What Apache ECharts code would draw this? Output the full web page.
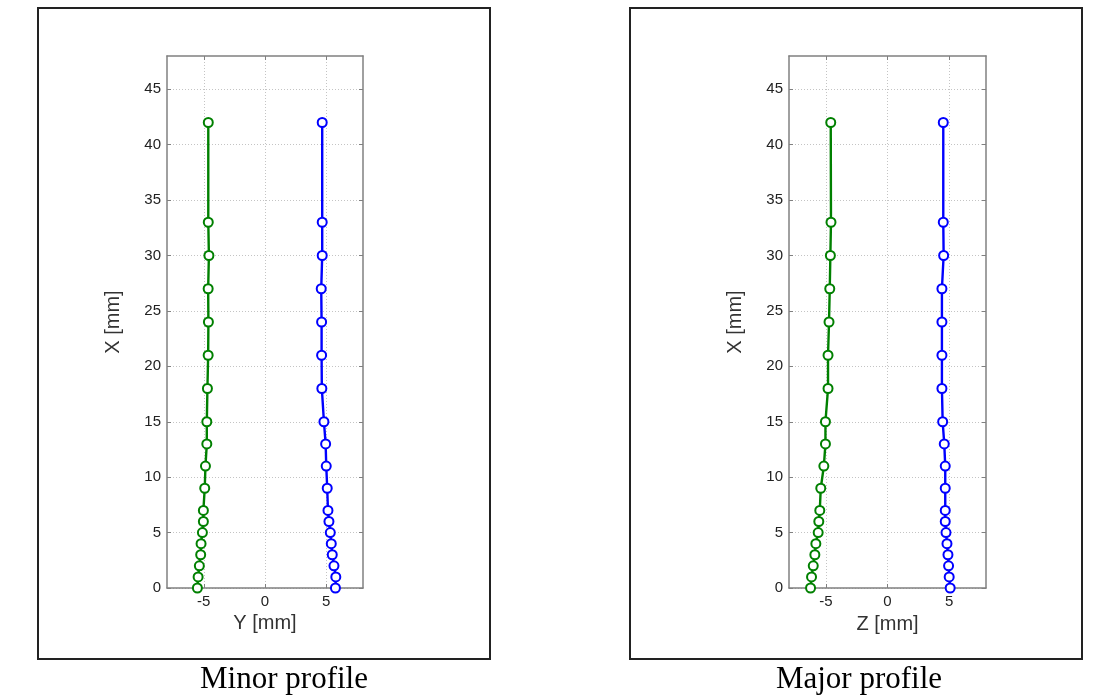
<!DOCTYPE html>
<html>
<head>
<meta charset="utf-8">
<script src="https://cdn.jsdelivr.net/npm/echarts/dist/echarts.min.js"></script>
<style>
  html, body { margin: 0; padding: 0; background: #fff; }
  #main { width: 1107px; height: 700px; }
</style>
</head>
<body>
<div id="main"></div>
<script>
// heights along the profile, X [mm]
var heights = [0, 1, 2, 3, 4, 5, 6, 7, 9, 11, 13, 15, 18, 21, 24, 27, 30, 33, 42];

// minor profile, Y [mm]
var minorGreen = [-5.52, -5.46, -5.36, -5.25, -5.22, -5.11, -5.03, -5.03, -4.92, -4.86, -4.75, -4.75, -4.70, -4.64, -4.62, -4.64, -4.58, -4.63, -4.63];
var minorBlue = [5.75, 5.78, 5.63, 5.49, 5.41, 5.33, 5.22, 5.14, 5.08, 5.00, 4.95, 4.81, 4.64, 4.62, 4.62, 4.59, 4.67, 4.67, 4.67];

// major profile, Z [mm]
var majorGreen = [-6.25, -6.17, -6.03, -5.90, -5.82, -5.63, -5.58, -5.50, -5.42, -5.17, -5.04, -5.04, -4.83, -4.83, -4.75, -4.69, -4.64, -4.59, -4.61];
var majorBlue = [5.09, 5.01, 4.96, 4.91, 4.83, 4.75, 4.69, 4.69, 4.69, 4.69, 4.61, 4.48, 4.42, 4.42, 4.42, 4.42, 4.56, 4.53, 4.53];

var xTicks = [-5, 0, 5];
var yTicks = [0, 5, 10, 15, 20, 25, 30, 35, 40, 45];
var captions = ['Minor profile', 'Major profile'];
var xNames = ['Y [mm]', 'Z [mm]'];
var yName = 'X [mm]';

var boxColor = '#808080';
var labelFont = { color: '#222', fontSize: 15, fontFamily: 'Liberation Sans' };

function pairs(xs) {
  return xs.map(function (v, i) { return [v, heights[i]]; });
}

function xAxes(g, name, gap) {
  return [{
    gridIndex: g, type: 'value', min: -8, max: 8, position: 'bottom',
    name: name, nameLocation: 'middle', nameGap: gap,
    nameTextStyle: { color: '#333', fontSize: 20, fontFamily: 'Liberation Sans' },
    axisLine: { onZero: false, lineStyle: { color: boxColor, width: 1.5 } },
    axisTick: { inside: true, length: 4, customValues: xTicks, lineStyle: { color: boxColor } },
    axisLabel: Object.assign({ customValues: xTicks, margin: 6 }, labelFont),
    splitLine: { show: true, lineStyle: { color: '#c4c4c4', type: [1, 2] } }
  }, {
    gridIndex: g, type: 'value', min: -8, max: 8, position: 'top',
    axisLine: { onZero: false, lineStyle: { color: boxColor, width: 1.5 } },
    axisTick: { inside: true, length: 4, customValues: xTicks, lineStyle: { color: boxColor } },
    axisLabel: { show: false },
    splitLine: { show: false }
  }];
}

function yAxes(g) {
  return [{
    gridIndex: g, type: 'value', min: 0, max: 48, position: 'left',
    name: yName, nameLocation: 'middle', nameGap: 44,
    nameTextStyle: { color: '#333', fontSize: 20, fontFamily: 'Liberation Sans' },
    axisLine: { onZero: false, lineStyle: { color: boxColor, width: 1.5 } },
    axisTick: { inside: true, length: 4, customValues: yTicks, lineStyle: { color: boxColor } },
    axisLabel: Object.assign({ customValues: yTicks, margin: 6 }, labelFont),
    splitLine: { show: true, lineStyle: { color: '#c4c4c4', type: [1, 2] } }
  }, {
    gridIndex: g, type: 'value', min: 0, max: 48, position: 'right',
    axisLine: { onZero: false, lineStyle: { color: boxColor, width: 1.5 } },
    axisTick: { inside: true, length: 4, customValues: yTicks, lineStyle: { color: boxColor } },
    axisLabel: { show: false },
    splitLine: { show: false }
  }];
}

function profile(name, xs, color, xi, yi) {
  return {
    name: name, type: 'line', xAxisIndex: xi, yAxisIndex: yi,
    data: pairs(xs),
    symbol: 'emptyCircle', symbolSize: 9,
    lineStyle: { color: color, width: 2.4 },
    itemStyle: { color: color, borderColor: color, borderWidth: 2.4 },
    animation: false
  };
}

var myChart = echarts.init(document.getElementById('main'));
var option = {
  backgroundColor: '#fff',
  animation: false,
  grid: [
    { left: 167, top: 56, width: 196, height: 532 },
    { left: 789, top: 56, width: 197, height: 532 }
  ],
  xAxis: xAxes(0, xNames[0], 22).concat(xAxes(1, xNames[1], 26)),
  yAxis: yAxes(0).concat(yAxes(1)),
  series: [
    profile('minor left', minorGreen, '#008000', 0, 0),
    profile('minor right', minorBlue, '#0000ff', 0, 0),
    profile('major left', majorGreen, '#008000', 2, 2),
    profile('major right', majorBlue, '#0000ff', 2, 2)
  ],
  graphic: [
    { type: 'rect', shape: { x: 38, y: 8, width: 452, height: 651 }, style: { fill: 'none', stroke: '#222', lineWidth: 2 } },
    { type: 'rect', shape: { x: 630, y: 8, width: 452, height: 651 }, style: { fill: 'none', stroke: '#222', lineWidth: 2 } },
    { type: 'text', x: 284, y: 680, style: { text: captions[0], fill: '#000', font: '31px "Liberation Serif"', textAlign: 'center', textVerticalAlign: 'middle' } },
    { type: 'text', x: 859, y: 680, style: { text: captions[1], fill: '#000', font: '31px "Liberation Serif"', textAlign: 'center', textVerticalAlign: 'middle' } }
  ]
};
myChart.setOption(option);
</script>
</body>
</html>
